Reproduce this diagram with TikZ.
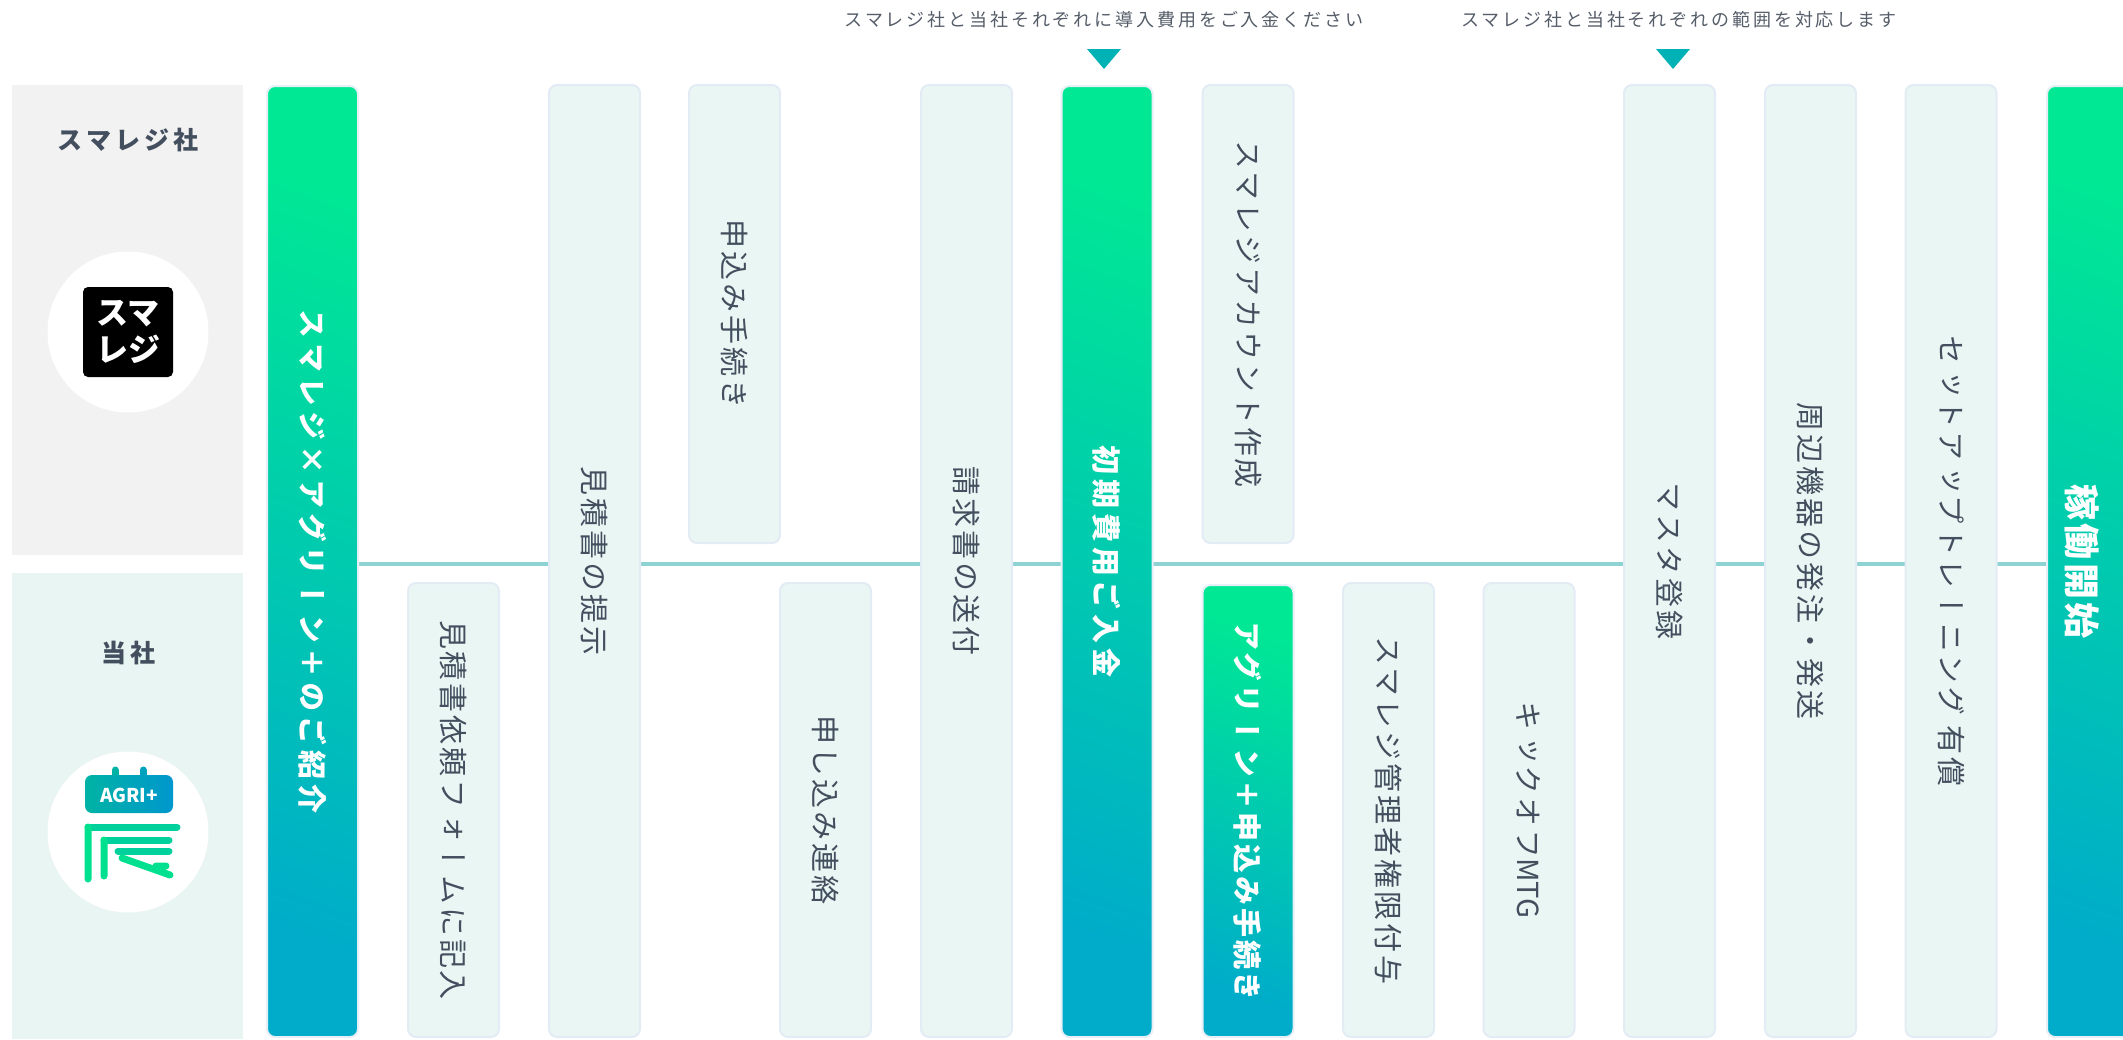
\documentclass[tikz,border=0pt]{standalone}
\usepackage{fontspec}
\setmainfont{Noto Sans CJK JP}
\newfontfamily\tate[Vertical=RotatedGlyphs,LetterSpace=10]{Noto Sans CJK JP}
\newfontfamily\widefont[LetterSpace=16]{Noto Sans CJK JP}
\usetikzlibrary{backgrounds}

\definecolor{ink}{HTML}{434E5E}
\definecolor{notegray}{HTML}{555D69}
\definecolor{colfill}{HTML}{EAF6F4}
\definecolor{coledge}{HTML}{E3ECF4}
\definecolor{gradedge}{HTML}{E6EEF6}
\definecolor{grtop}{HTML}{00E894}
\definecolor{grbot}{HTML}{00ACCA}
\definecolor{laneA}{HTML}{F2F2F2}
\definecolor{laneB}{HTML}{E9F5F2}
\definecolor{lineclr}{HTML}{8ED3D4}
\definecolor{markclr}{HTML}{00B2B5}
\definecolor{agriA}{HTML}{00B3A4}
\definecolor{agriB}{HTML}{0097CE}
\definecolor{agriC}{HTML}{00D09C}
\definecolor{agriD}{HTML}{00E08E}

\tikzset{
  colbox/.style={rectangle, rounded corners=8pt, line width=2pt, minimum width=91pt, inner sep=0pt},
  plaincol/.style={colbox, draw=coledge, fill=colfill, text=ink, font=\tate\fontsize{29}{29}\selectfont},
  gradcol/.style={colbox, draw=gradedge, top color=grtop, bottom color=grbot, shading angle=-20, text=white, font=\tate\bfseries\fontsize{29}{29}\selectfont},
  lanelabel/.style={text=ink, font=\widefont\bfseries\fontsize{25}{25}\selectfont},
  logodisc/.style={circle, fill=white, minimum size=161pt, inner sep=0pt},
  note/.style={text=notegray, font=\widefont\fontsize{18}{18}\selectfont},
  marker/.style={fill=markclr},
  flowline/.style={draw=lineclr, line width=4pt},
  agristroke/.style={draw=agriC, line width=7pt, line cap=round},
}

\begin{document}
\begin{tikzpicture}[x=1pt, y=-1pt]
\useasboundingbox (0,0) rectangle (2123,1039);

% lanes
\fill[laneA] (12,85) rectangle (243,555);
\fill[laneB] (12,573) rectangle (243,1039);
\node[lanelabel] (laneAname) at (128,140) {スマレジ社};
\node[lanelabel] (laneBname) at (128,653) {当社};

% logos
\node[logodisc] (logoA) at (128,332) {};
\node[fill=black, rounded corners=5pt, minimum size=90pt, inner sep=0pt, text=white, align=center, font=\bfseries\fontsize{32}{37}\selectfont] (smaregi) at (logoA) {スマ\\レジ};
\node[logodisc] (logoB) at (128,832) {};
\draw[line width=7pt, line cap=round, agriA] (115,770) -- (115,778);
\draw[line width=7pt, line cap=round, agriB!60!agriA] (143,770) -- (143,778);
\shade[left color=agriA, right color=agriB, rounded corners=7pt] (85,775) rectangle (173,813);
\node[text=white, font=\bfseries\fontsize{19}{19}\selectfont, inner sep=0pt] (agri) at (129,795) {AGRI+};
\draw[agristroke] (88,827) -- (177,827) (104,840) -- (169,840) (118,851) -- (169,851);
\draw[agristroke, agriD] (88,827) -- (88,879) (104,840) -- (104,876) (122,858) -- (170,875) (156,866) -- (166,866);

% steps
\foreach \n/\st/\x/\yt/\yb/\txt in {
  c1/gradcol/312.5/86/1037/{\addfontfeature{LetterSpace=17}スマレジ×アグリーン＋のご紹介},
  c2/plaincol/453.5/583/1037/見積書依頼フォームに記入,
  c3/plaincol/594.5/85/1037/見積書の提示,
  c4/plaincol/734.5/85/543/申込み手続き,
  c5/plaincol/825.5/583/1037/申し込み連絡,
  c6/plaincol/966.5/85/1037/請求書の送付,
  c7/gradcol/1107/86/1037/{\addfontfeature{LetterSpace=17}初期費用ご入金},
  c8/plaincol/1248/85/543/スマレジアカウント作成,
  c9/gradcol/1248/585/1037/アグリーン＋申込み手続き,
  c10/plaincol/1388.5/583/1037/スマレジ管理者権限付与,
  c11/plaincol/1529/583/1037/キックオフ{\normalfont MTG},
  c12/plaincol/1669.5/85/1037/マスタ登録,
  c13/plaincol/1810.5/85/1037/周辺機器の発注・発送,
  c14/plaincol/1951/85/1037/セットアップトレーニング 有償}
  \node[\st, minimum height={(\yb-\yt)*1pt}] (\n) at (\x,{(\yt+\yb)/2}) {\rotatebox{-90}{\txt}};
\node[gradcol, minimum height=951pt, font=\tate\bfseries\fontsize{36}{36}\selectfont] (c15) at (2092.5,561.5) {\hspace*{-21pt}\rotatebox{-90}{稼働開始}};

\begin{scope}[on background layer]
\coordinate (mid) at (0,564);
\draw[flowline] (c1.east |- mid) -- (c15.west |- mid);
\end{scope}

% notes
\node[note] (note1) at (1104,20) {スマレジ社と当社それぞれに導入費用をご入金ください};
\node[note] (note2) at (1679,20) {スマレジ社と当社それぞれの範囲を対応します};
\fill[marker] (1087,49) -- (1121,49) -- (1104,69) -- cycle;
\fill[marker] (1656,49) -- (1690,49) -- (1673,69) -- cycle;
\end{tikzpicture}
\end{document}
